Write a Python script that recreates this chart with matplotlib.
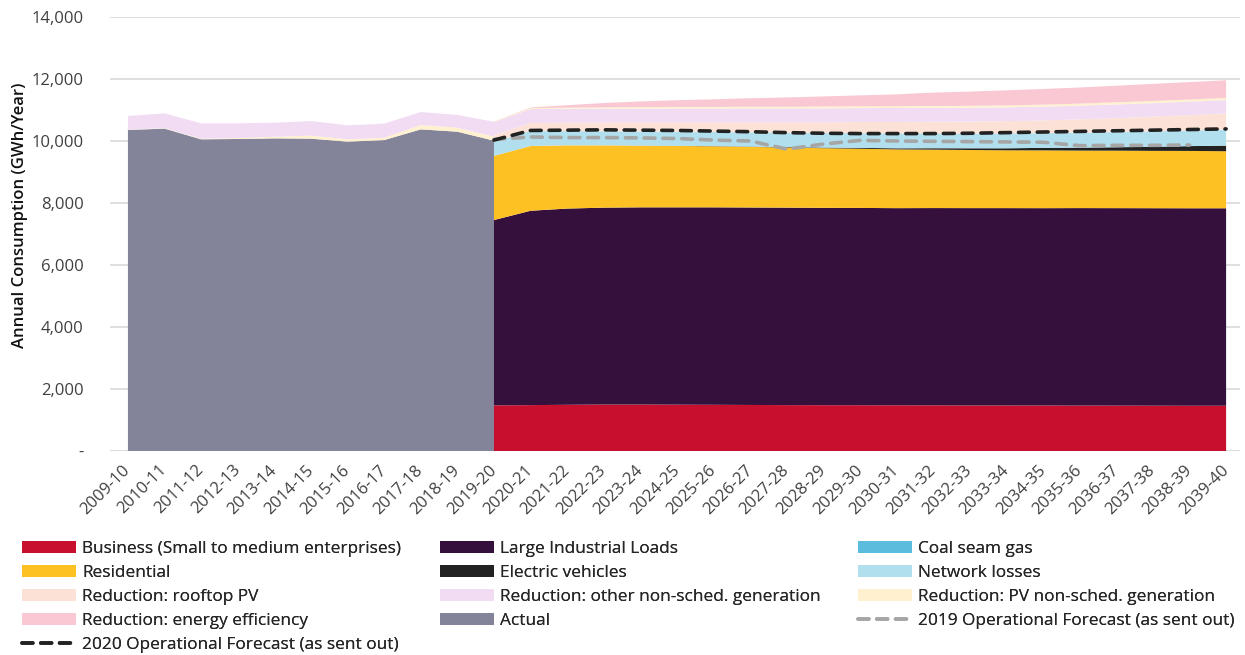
import matplotlib.pyplot as plt
import matplotlib.patches as mpatches
import matplotlib.lines as mlines
import numpy as np

plt.rcParams["font.family"] = ["Open Sans", "DejaVu Sans"]

years = [
    "2009-10", "2010-11", "2011-12", "2012-13", "2013-14", "2014-15", "2015-16",
    "2016-17", "2017-18", "2018-19", "2019-20", "2020-21", "2021-22", "2022-23",
    "2023-24", "2024-25", "2025-26", "2026-27", "2027-28", "2028-29", "2029-30",
    "2030-31", "2031-32", "2032-33", "2033-34", "2034-35", "2035-36", "2036-37",
    "2037-38", "2038-39", "2039-40",
]

# history 2009-10 .. 2019-20
actual = [10355, 10400, 10055, 10065, 10085, 10075, 9980, 10030, 10375, 10300, 10010]
hist_pv_nonsched = [10, 15, 20, 30, 50, 100, 75, 75, 140, 130, 130]
hist_other_nonsched = [445, 475, 495, 475, 455, 470, 450, 455, 420, 410, 480]

# forecast 2019-20 .. 2039-40
business = [1470, 1480, 1490, 1500, 1500, 1495, 1490, 1485, 1480, 1478, 1476,
            1474, 1472, 1470, 1470, 1468, 1466, 1464, 1462, 1460, 1460]
large_industrial = [5980, 6270, 6330, 6350, 6360, 6365, 6370, 6370, 6370, 6365, 6365,
                    6360, 6365, 6365, 6365, 6365, 6370, 6370, 6370, 6370, 6370]
residential = [2070, 2090, 2040, 2010, 1990, 1980, 1970, 1955, 1940, 1925, 1910,
               1895, 1885, 1875, 1865, 1865, 1855, 1855, 1850, 1850, 1840]
coal_seam_gas = [0] * 21
electric_vehicles = [0, 0, 0, 0, 2, 4, 6, 10, 15, 20, 27,
                     35, 45, 55, 65, 80, 95, 110, 130, 155, 180]
network_losses = [455, 490, 460, 455, 458, 456, 454, 460, 465, 470, 473,
                  480, 475, 475, 480, 475, 485, 490, 500, 505, 520]
red_rooftop_pv = [220, 250, 270, 280, 290, 300, 310, 320, 330, 345, 360,
                  370, 380, 385, 395, 410, 430, 450, 475, 495, 520]
red_other_nonsched = [420, 450, 450, 450, 450, 450, 450, 450, 450, 450, 450,
                      450, 450, 450, 445, 445, 440, 440, 435, 435, 430]
red_pv_nonsched = [20, 30, 35, 40, 45, 50, 50, 55, 55, 60, 60,
                   60, 60, 60, 65, 65, 65, 70, 70, 70, 70]
red_energy_eff = [0, 20, 80, 140, 180, 215, 245, 275, 300, 325, 350,
                  380, 430, 460, 485, 505, 520, 535, 550, 560, 570]

fc_2020 = [10030, 10340, 10350, 10360, 10350, 10340, 10320, 10300, 10270, 10250, 10240,
           10240, 10240, 10250, 10270, 10290, 10310, 10330, 10350, 10370, 10390]
fc_2019 = [10050, 10130, 10110, 10110, 10100, 10080, 10030, 10000, 9740, 9900, 10020,
           10000, 9990, 9980, 9970, 9960, 9850, 9860, 9860, 9870, np.nan]

colors = {
    "business": "#C8102E",
    "lil": "#36103C",
    "csg": "#5BBCDD",
    "res": "#FEC123",
    "ev": "#222222",
    "losses": "#B1DFEE",
    "rooftop": "#FCE2D6",
    "other": "#F1DCF4",
    "pvns": "#FFF1CF",
    "ee": "#F9C8D2",
    "actual": "#838499",
}

fig = plt.figure(figsize=(12.45, 6.55), dpi=100)
ax = fig.add_axes([110 / 1245, 204 / 655, 1130 / 1245, 434 / 655])

x_hist = np.arange(0, 11)
x_fc = np.arange(10, 31)

ax.stackplot(x_hist, actual, hist_pv_nonsched, hist_other_nonsched,
             colors=[colors["actual"], colors["pvns"], colors["other"]], lw=0, zorder=2)
ax.stackplot(x_fc, business, large_industrial, residential, coal_seam_gas,
             electric_vehicles, network_losses, red_rooftop_pv, red_other_nonsched,
             red_pv_nonsched, red_energy_eff,
             colors=[colors["business"], colors["lil"], colors["res"], colors["csg"],
                     colors["ev"], colors["losses"], colors["rooftop"], colors["other"],
                     colors["pvns"], colors["ee"]], lw=0, zorder=2)

ax.plot(x_fc, fc_2019, color="#A6A6A6", lw=2.6, ls=(0, (3, 2.2)),
        dash_capstyle="round", zorder=3)
ax.plot(x_fc, fc_2020, color="#222222", lw=2.6, ls=(0, (3, 2.2)),
        dash_capstyle="round", zorder=4)

# axes styling
ax.set_xlim(-0.49, 30.38)
ax.set_ylim(0, 14000)
ax.set_yticks(np.arange(0, 14001, 2000))
ax.yaxis.set_major_formatter(plt.FuncFormatter(lambda v, p: "-" if v == 0 else f"{v:,.0f}"))
ax.grid(axis="y", color="#D9D9D9", lw=1.2, zorder=0)
ax.set_axisbelow(True)
for s in ax.spines.values():
    s.set_visible(False)
ax.axhline(0, color="#D9D9D9", lw=1.2, zorder=1)

ax.set_xticks(np.arange(len(years)))
ax.set_xticklabels(years, rotation=45, ha="right", va="center", rotation_mode="anchor")
ax.tick_params(axis="x", length=0, pad=12, labelsize=12, labelcolor="#404040")
ax.tick_params(axis="y", length=0, pad=19, labelsize=12, labelcolor="#404040")
ax.set_ylabel("Annual Consumption (GWh/Year)", fontsize=12, fontweight="semibold",
              color="#111111")
ax.yaxis.set_label_coords(-82 / 1130, 0.544)

# legend, three fixed columns like the original
def patch(c, lab):
    return mpatches.Patch(facecolor=c, edgecolor="none", label=lab)

col1 = [patch(colors["business"], "Business (Small to medium enterprises)"),
        patch(colors["res"], "Residential"),
        patch(colors["rooftop"], "Reduction: rooftop PV"),
        patch(colors["ee"], "Reduction: energy efficiency"),
        mlines.Line2D([], [], color="#222222", lw=2.6, ls=(0, (3, 2.2)),
                      dash_capstyle="round", label="2020 Operational Forecast (as sent out)")]
col2 = [patch(colors["lil"], "Large Industrial Loads"),
        patch(colors["ev"], "Electric vehicles"),
        patch(colors["other"], "Reduction: other non-sched. generation"),
        patch(colors["actual"], "Actual")]
col3 = [patch(colors["csg"], "Coal seam gas"),
        patch(colors["losses"], "Network losses"),
        patch(colors["pvns"], "Reduction: PV non-sched. generation"),
        mlines.Line2D([], [], color="#A6A6A6", lw=2.6, ls=(0, (3, 2.2)),
                      dash_capstyle="round", label="2019 Operational Forecast (as sent out)")]

for handles, x0 in [(col1, 22), (col2, 440), (col3, 858)]:
    leg = fig.legend(handles=handles, loc="upper left",
                     bbox_to_anchor=(x0 / 1245, 1 - 541 / 655),
                     frameon=False, fontsize=12.4, borderpad=0, borderaxespad=0,
                     handlelength=3.15, handleheight=0.72, handletextpad=0.35,
                     labelspacing=0.45, labelcolor="#262626")
    fig.add_artist(leg)

fig.savefig("out.png", dpi=100)
